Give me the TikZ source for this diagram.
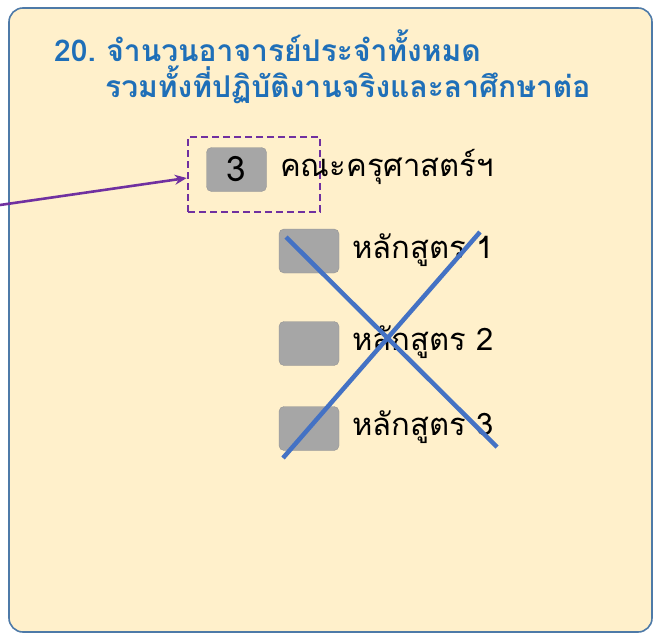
\documentclass[tikz,border=0pt]{standalone}
\usepackage{fontspec}
\newfontfamily\thai[Script=Thai]{Loma}
\usetikzlibrary{arrows.meta}
\definecolor{panelfill}{HTML}{FFF0CB}
\definecolor{panelline}{HTML}{4E7AA8}
\definecolor{titleblue}{HTML}{1F6FB8}
\definecolor{purp}{HTML}{7030A0}
\definecolor{graybox}{HTML}{A6A6A6}
\definecolor{xblue}{HTML}{4472C4}
\tikzset{
  gbox/.style={fill=graybox, draw=graybox!90!black, line width=0.4pt, rounded corners=5pt, minimum width=60pt, minimum height=44pt, inner sep=0pt},
  lbl/.style={anchor=base west, inner sep=0pt, font=\thai\fontsize{31}{34}\selectfont},
  ttl/.style={anchor=base west, inner sep=0pt, text=titleblue, font=\thai\bfseries\fontsize{30}{34}\selectfont},
  xline/.style={xblue, line width=4.5pt},
}
\begin{document}
\begin{tikzpicture}[x=1pt,y=-1pt]
\useasboundingbox (0,0) rectangle (655,634);
\fill[white] (0,0) rectangle (655,634);
\draw[panelline, fill=panelfill, line width=1.6pt, rounded corners=14pt] (9,8) rectangle (652,632);
\node[ttl] (t1) at (54,61) {20.\hspace{-3pt} จำนวนอาจารย์ประจำทั้งหมด};
\node[ttl] (t2) at (105,97) {รวมทั้งที่ปฏิบัติงานจริงและลาศึกษาต่อ};
\node[draw=purp, dash pattern=on 7pt off 4pt, line width=2.5pt, minimum width=132pt, minimum height=75pt, inner sep=0pt] (dbox) at (254,174.5) {};
\node[gbox, font=\thai\fontsize{35}{36}\selectfont] (n3) at (236.5,169.5) {3};
\node[lbl] (fac) at (280,176) {คณะครุศาสตร์ฯ};
\coordinate (src) at (0,205);
\draw[purp, line width=2.6pt, -{Stealth[length=12pt,width=10pt]}] (src) -- (dbox.west |- 0,178);
\node[gbox] (b1) at (309,251) {};
\node[gbox] (b2) at (309,343.5) {};
\node[gbox] (b3) at (309,428.5) {};
\node[lbl] (l1) at (352,258) {หลักสูตร 1};
\node[lbl] (l2) at (352,350) {หลักสูตร 2};
\node[lbl] (l3) at (352,435) {หลักสูตร 3};
\coordinate (xa) at (286,237);
\coordinate (xb) at (497,447);
\coordinate (xc) at (480,232);
\coordinate (xd) at (283,458);
\draw[xline] (xa) -- (xb);
\draw[xline] (xc) -- (xd);
\end{tikzpicture}
\end{document}
